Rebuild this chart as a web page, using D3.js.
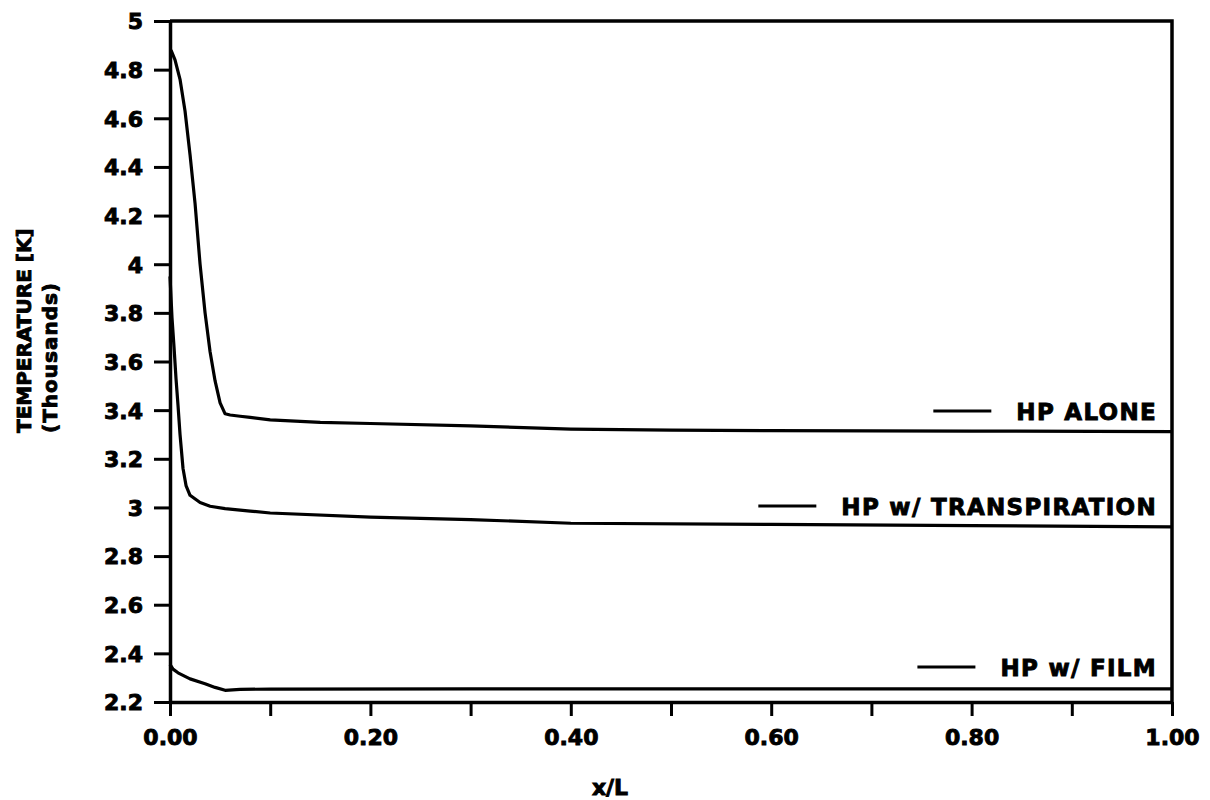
<!DOCTYPE html>
<html>
<head>
<meta charset="utf-8">
<script src="https://cdn.jsdelivr.net/npm/d3@7"></script>
<style>
  body { margin: 0; background: #fff; }
  text { font-family: "DejaVu Sans", "Liberation Sans", sans-serif; font-weight: bold; fill: #000;
         stroke: #000; stroke-width: 0.9px; }
</style>
</head>
<body>
<svg id="chart" width="1210" height="800"></svg>
<script>
// x/L positions and temperatures (thousands of K)
var xAlone = [0.001, 0.005, 0.010, 0.015, 0.020, 0.025, 0.030, 0.035, 0.040, 0.045, 0.050, 0.055, 0.060, 0.070, 0.080, 0.100, 0.150, 0.200, 0.300, 0.400, 0.500, 0.600, 0.800, 1.000];
var tAlone = [4.88, 4.84, 4.76, 4.63, 4.45, 4.25, 4.00, 3.80, 3.64, 3.52, 3.43, 3.385, 3.38, 3.375, 3.37, 3.36, 3.35, 3.345, 3.335, 3.322, 3.318, 3.316, 3.314, 3.312];

var xTrans = [0.000, 0.002, 0.004, 0.006, 0.008, 0.010, 0.013, 0.016, 0.020, 0.030, 0.040, 0.055, 0.080, 0.100, 0.200, 0.300, 0.400, 0.600, 0.800, 1.000];
var tTrans = [3.95, 3.78, 3.66, 3.53, 3.42, 3.30, 3.16, 3.09, 3.05, 3.02, 3.005, 2.995, 2.985, 2.977, 2.96, 2.95, 2.935, 2.93, 2.925, 2.92];

var xFilm = [0.000, 0.003, 0.008, 0.020, 0.035, 0.045, 0.055, 0.070, 0.100, 0.300, 0.600, 1.000];
var tFilm = [2.355, 2.335, 2.32, 2.295, 2.275, 2.26, 2.248, 2.252, 2.253, 2.254, 2.254, 2.254];

var seriesNames = ["HP ALONE", "HP w/ TRANSPIRATION", "HP w/ FILM"];
var xTicks = [0, 0.1, 0.2, 0.3, 0.4, 0.5, 0.6, 0.7, 0.8, 0.9, 1.0];
var yTicks = [2.2, 2.4, 2.6, 2.8, 3, 3.2, 3.4, 3.6, 3.8, 4, 4.2, 4.4, 4.6, 4.8, 5];

var svg = d3.select("#chart");
var mLeft = 170, mRight = 1172, mTop = 21, mBottom = 702;

var x = d3.scaleLinear().domain([0, 1]).range([mLeft, mRight]);
var y = d3.scaleLinear().domain([2.2, 5]).range([mBottom, mTop]);

// frame top and right
svg.append("path")
    .attr("d", "M" + x(0) + "," + y(5) + "H" + x(1) + "V" + y(2.2))
    .attr("fill", "none").attr("stroke", "#000").attr("stroke-width", 3.5);

// axes
var xAxis = d3.axisBottom(x).tickValues(xTicks).tickSize(14).tickSizeOuter(0)
    .tickFormat(function(d){ return Math.round(d*10) % 2 === 0 ? d.toFixed(2) : ""; });
var gx = svg.append("g").attr("transform", "translate(0," + mBottom + ")").call(xAxis);

var yAxis = d3.axisLeft(y).tickValues(yTicks).tickSize(16).tickSizeOuter(0)
    .tickFormat(function(d){ return d3.format("~g")(+d.toFixed(1)); });
var gy = svg.append("g").attr("transform", "translate(" + mLeft + ",0)").call(yAxis);

[gx, gy].forEach(function(g){
  g.select(".domain").attr("stroke-width", 3.5);
  g.selectAll(".tick line").attr("stroke-width", 3);
  g.selectAll(".tick text").style("font-size", "22px").style("font-family", null)
    .attr("fill", null);
});
gx.selectAll(".tick text").attr("dy", null).attr("y", 43);
gy.selectAll(".tick text").attr("x", -27).attr("dy", "0.36em");

// curves
var line = d3.line().x(function(d){ return x(d[0]); }).y(function(d){ return y(d[1]); });
var curves = [d3.zip(xAlone, tAlone), d3.zip(xTrans, tTrans), d3.zip(xFilm, tFilm)];
svg.selectAll("path.curve").data(curves).enter().append("path")
    .attr("class", "curve")
    .attr("d", line)
    .attr("fill", "none").attr("stroke", "#000").attr("stroke-width", 3.2)
    .attr("stroke-linejoin", "round");

// legend labels sitting just above each curve's right end
var legendY = [412, 507, 668];
var legend = svg.selectAll("g.leg").data(seriesNames).enter().append("g").attr("class", "leg");
legend.append("text")
    .attr("x", 1157).attr("y", function(d, i){ return legendY[i]; })
    .attr("dy", "0.36em").attr("text-anchor", "end")
    .style("font-size", "23px").style("letter-spacing", "1.3px")
    .text(function(d){ return d; });
legend.each(function(d, i){
  var g = d3.select(this);
  var bb = g.select("text").node().getBBox();
  g.append("line")
      .attr("x1", bb.x - 83).attr("x2", bb.x - 25)
      .attr("y1", legendY[i] - 1).attr("y2", legendY[i] - 1)
      .attr("stroke", "#000").attr("stroke-width", 3);
});

// axis titles
svg.append("text").attr("x", 610).attr("y", 795).attr("text-anchor", "middle")
    .style("font-size", "22px").text("x/L");
svg.append("text").attr("transform", "translate(31,433) rotate(-90)")
    .style("font-size", "20px").text("TEMPERATURE [K]");
svg.append("text").attr("transform", "translate(57,433) rotate(-90)")
    .style("font-size", "20px").style("letter-spacing", "1px").text("(Thousands)");
</script>
</body>
</html>
